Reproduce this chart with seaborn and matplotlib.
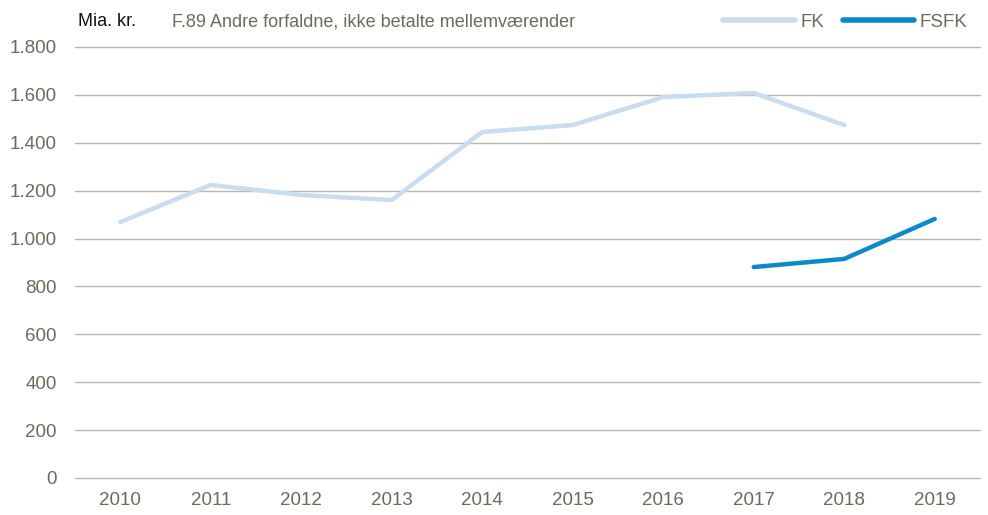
import matplotlib
matplotlib.use("Agg")
import matplotlib.pyplot as plt
import seaborn as sns
import pandas as pd
import numpy as np
from matplotlib.lines import Line2D

years = ["2010", "2011", "2012", "2013", "2014", "2015", "2016", "2017", "2018", "2019"]
fk = [1069, 1224, 1182, 1161, 1445, 1474, 1591, 1608, 1474, np.nan]
fsfk = [np.nan, np.nan, np.nan, np.nan, np.nan, np.nan, np.nan, 881, 915, 1082]
yticks = [0, 200, 400, 600, 800, 1000, 1200, 1400, 1600, 1800]
ytick_labels = ["0", "200", "400", "600", "800", "1.000", "1.200", "1.400", "1.600", "1.800"]

sns.set_theme(style="white")
plt.rcParams["font.family"] = ["Liberation Sans", "DejaVu Sans"]

txt = "#6B6B5B"
grid = "#B8B8AA"

df = pd.DataFrame({"year": years, "FK": fk, "FSFK": fsfk})
long = df.melt(id_vars="year", var_name="series", value_name="value")
long["x"] = long["year"].map({y: i for i, y in enumerate(years)})

fig = plt.figure(figsize=(9.88, 5.15), dpi=100)
ax = fig.add_axes([75/988, 1-478/515, 905/988, 431/515])
sns.lineplot(data=long, x="x", y="value", hue="series",
             palette={"FK": "#C9DCF0", "FSFK": "#0A8ACB"}, linewidth=3.2,
             ax=ax, legend=False, sort=False)

x = np.arange(len(years))
ax.set_xlim(-0.5, len(years) - 0.5)
ax.set_ylim(0, 1800)
ax.set_yticks(yticks)
ax.set_yticklabels(ytick_labels)
ax.set_xticks(x)
ax.set_xticklabels(years)
ax.set_xlabel("")
ax.set_ylabel("")
ax.grid(axis="y", color=grid, linewidth=1)
for gl in ax.get_ygridlines():
    gl.set_clip_on(False)
ax.set_axisbelow(True)
for s in ax.spines.values():
    s.set_visible(False)
ax.tick_params(axis="both", colors=txt, labelsize=13.5, length=0)
ax.tick_params(axis="y", pad=13)
ax.tick_params(axis="x", pad=10)

fig.text(78/988, 1-22/515, "Mia. kr.", fontsize=13, color="#111111", va="center", ha="left")
fig.text(172/988, 1-22/515, "F.89 Andre forfaldne, ikke betalte mellemværender",
         fontsize=13, color=txt, va="center", ha="left")

handles = [Line2D([0], [0], color="#C9DCF0", lw=4, solid_capstyle="round"),
           Line2D([0], [0], color="#0A8ACB", lw=4, solid_capstyle="round")]
leg = fig.legend(handles, ["FK", "FSFK"], loc="center right", bbox_to_anchor=(975/988, 1-22/515),
                 ncol=2, frameon=False, fontsize=13.5, handlelength=3.8, handletextpad=0.3,
                 columnspacing=1.0, borderaxespad=0)
for t in leg.get_texts():
    t.set_color(txt)

fig.savefig("out.png", dpi=100)
